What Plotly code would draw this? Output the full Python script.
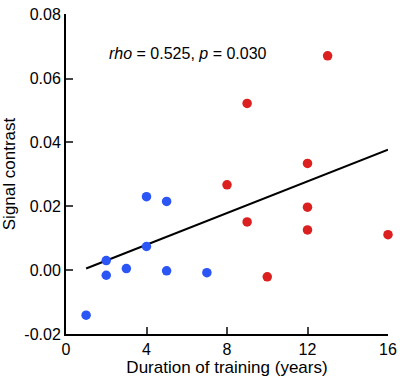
import plotly.graph_objects as go

blue_x = [1, 2, 2, 3, 4, 4, 5, 5, 7]
blue_y = [-0.0141, 0.0030, -0.0016, 0.0005, 0.0230, 0.0074, 0.0215, -0.0002, -0.0008]

red_x = [13, 9, 12, 8, 12, 9, 12, 16, 10]
red_y = [0.0671, 0.0522, 0.0334, 0.0267, 0.0197, 0.0151, 0.0126, 0.0111, -0.0021]

fit_x = [1, 16]
fit_y = [0.0005, 0.0377]

x_ticks = [0, 4, 8, 12, 16]
y_ticks = [-0.02, 0.00, 0.02, 0.04, 0.06, 0.08]
y_tick_labels = ["-0.02", "0.00", "0.02", "0.04", "0.06", "0.08"]

font = "Liberation Sans, Arial, Helvetica, sans-serif"

fig = go.Figure()
fig.add_trace(go.Scatter(x=fit_x, y=fit_y, mode="lines",
                         line=dict(color="black", width=2), cliponaxis=False, hoverinfo="skip"))
fig.add_trace(go.Scatter(x=blue_x, y=blue_y, mode="markers",
                         marker=dict(color="#2b55f4", size=9.5), cliponaxis=False))
fig.add_trace(go.Scatter(x=red_x, y=red_y, mode="markers",
                         marker=dict(color="#dc1f1f", size=9.5), cliponaxis=False))

fig.add_annotation(x=0.127, y=0.876, xref="paper", yref="paper",
                   text="<i>rho</i> = 0.525, <i>p</i> = 0.030", showarrow=False,
                   xanchor="left", yanchor="middle",
                   font=dict(family=font, size=16, color="black"))

fig.update_layout(
    width=403, height=380,
    margin=dict(l=63, r=11, t=6, b=44),
    paper_bgcolor="white", plot_bgcolor="white",
    showlegend=False,
    font=dict(family=font, size=16, color="black"),
    xaxis=dict(range=[0, 16.0001], tickvals=x_ticks, ticks="inside", ticklen=7, tickwidth=2,
               showline=True, linecolor="black", linewidth=2, showgrid=False, zeroline=False,
               title=dict(text="Duration of training (years)", font=dict(size=17), standoff=4),
               tickfont=dict(size=16)),
    yaxis=dict(range=[-0.02, 0.0802], tickvals=y_ticks, ticktext=y_tick_labels, ticks="inside",
               ticklen=7, tickwidth=2, showline=True, linecolor="black", linewidth=2,
               showgrid=False, zeroline=False, ticklabeloverflow="allow",
               title=dict(text="Signal contrast", font=dict(size=17), standoff=6),
               tickfont=dict(size=16)),
)

fig.write_html("out.html", config={"displayModeBar": False},
               post_script="document.body.style.margin='0';")
